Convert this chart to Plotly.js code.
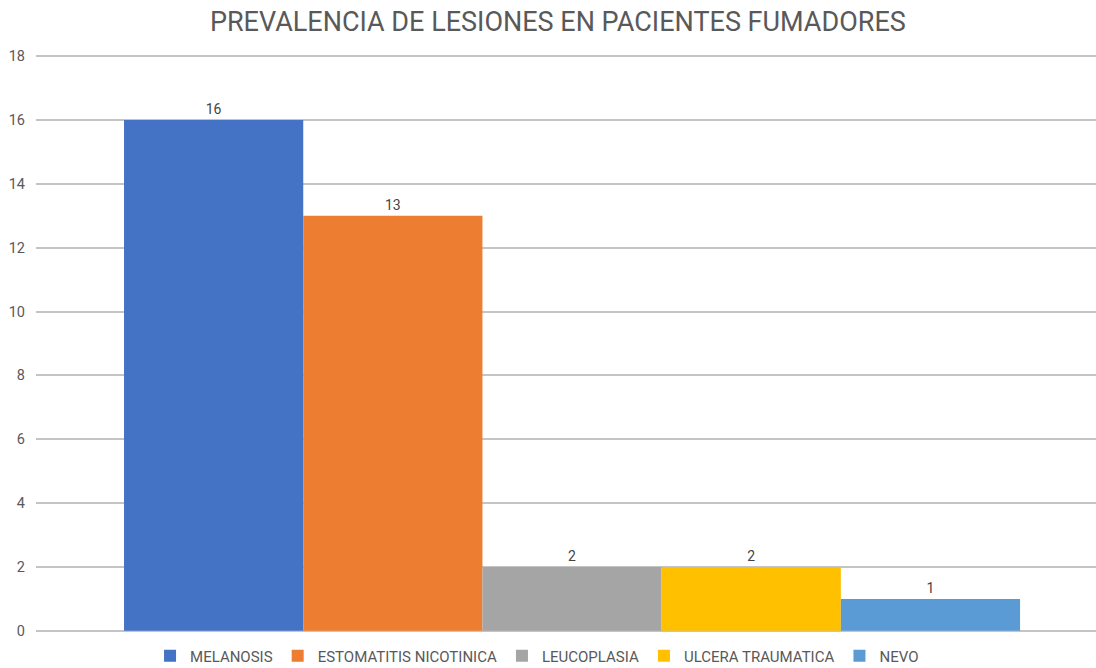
<!DOCTYPE html>
<html>
<head>
<meta charset="utf-8">
<script src="https://cdn.plot.ly/plotly-3.0.1.min.js"></script>
<style>html,body{margin:0;padding:0;background:#fff;}#chart{width:1096px;height:668px;}</style>
</head>
<body>
<div id="chart"></div>
<script>
const seriesNames = ["MELANOSIS", "ESTOMATITIS NICOTINICA", "LEUCOPLASIA", "ULCERA TRAUMATICA", "NEVO"];
const seriesValues = [16, 13, 2, 2, 1];
const seriesColors = ["#4472C4", "#ED7D31", "#A5A5A5", "#FFC000", "#5B9BD5"];
const category = [""];
const yTicks = [0, 2, 4, 6, 8, 10, 12, 14, 16, 18];

const FONT = "Roboto, Arial, sans-serif";

const traces = seriesNames.map((name, i) => ({
  type: "bar",
  name: name,
  x: category,
  y: [seriesValues[i]],
  marker: {color: seriesColors[i]},
  text: [String(seriesValues[i])],
  textposition: "outside",
  cliponaxis: false,
  textfont: {family: FONT, size: 14, color: "#444"},
  hoverinfo: "name+y"
}));

const layout = {
  width: 1096, height: 668,
  paper_bgcolor: "#fff", plot_bgcolor: "#fff",
  margin: {l: 36, r: 0, t: 53, b: 34},
  font: {family: FONT, color: "#555"},
  title: {text: "PREVALENCIA DE LESIONES EN PACIENTES FUMADORES", x: 0.509, xanchor: "center", y: 0.967, yanchor: "middle",
          font: {family: FONT, size: 27, color: "#595959"}},
  barmode: "group",
  bargap: 0.1547, bargroupgap: 0,
  xaxis: {type: "category", range: [-0.5057, 0.4943], showticklabels: false, showgrid: false, zeroline: false, showline: false, fixedrange: true},
  yaxis: {range: [-0.1, 18.1], tickvals: yTicks, ticktext: yTicks.map(String), showgrid: true, gridcolor: "#C4C4C4", gridwidth: 2,
          zeroline: false, showline: false, ticks: "", ticklabelstandoff: 10,
          tickfont: {family: FONT, size: 14.5, color: "#595959"}},
  showlegend: true,
  legend: {orientation: "h", x: 0.49, xanchor: "center", xref: "container", y: 0.018, yanchor: "middle", yref: "container",
           font: {family: FONT, size: 15, color: "#595959"},
           itemwidth: 30, traceorder: "normal", itemclick: false}
};

Plotly.newPlot("chart", traces, layout, {displayModeBar: false, staticPlot: true});
</script>
</body>
</html>
